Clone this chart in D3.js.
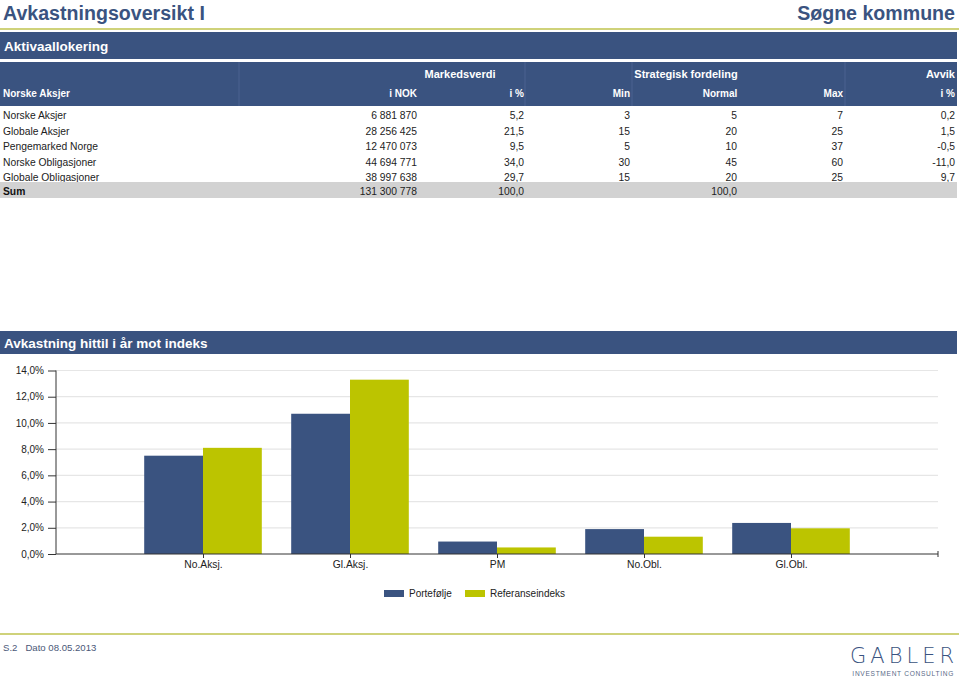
<!DOCTYPE html>
<html><head><meta charset="utf-8">
<script src="https://cdn.jsdelivr.net/npm/d3@7"></script>
<style>
html,body{margin:0;padding:0;background:#fff;}
svg{display:block;font-family:"Liberation Sans",Arial,sans-serif;}
</style></head>
<body>
<svg id="c" width="959" height="678"></svg>
<script>
// ---------- DATA ----------
const assetClasses = ["Norske Aksjer","Globale Aksjer","Pengemarked Norge","Norske Obligasjoner","Globale Obligasjoner"];
const marketValueNOK = [6881870, 28256425, 12470073, 44694771, 38997638];
const marketValuePct = [5.2, 21.5, 9.5, 34.0, 29.7];
const strategyMin = [3, 15, 5, 30, 15];
const strategyNormal = [5, 20, 10, 45, 20];
const strategyMax = [7, 25, 37, 60, 25];
const deviationPct = [0.2, 1.5, -0.5, -11.0, 9.7];
const sumNOK = 131300778;
const sumPct = 100.0;
const sumNormal = 100.0;

const categories = ["No.Aksj.","Gl.Aksj.","PM","No.Obl.","Gl.Obl."];
const portfolio = [7.5, 10.7, 0.95, 1.9, 2.37];
const referenceIndex = [8.1, 13.3, 0.5, 1.32, 1.96];
const yTicks = [0, 2, 4, 6, 8, 10, 12, 14];
const seriesNames = ["Portefølje", "Referanseindeks"];

// ---------- STYLE ----------
const BLUE = "#3a5380";
const GREEN = "#bcc400";
const LINE = "#cfd27a";

const loc = d3.formatLocale({decimal:",", thousands:" ", grouping:[3], currency:["",""], minus:"-"});
const fInt = loc.format(",d");
const f1 = loc.format(".1f");
const fPctAxis = v => loc.format(".1f")(v) + "%";

const svg = d3.select("#c");

// Title
svg.append("text").attr("x",3).attr("y",20).attr("font-size",19.6).attr("font-weight","bold")
  .attr("fill",BLUE).text("Avkastningsoversikt I");
svg.append("text").attr("x",955).attr("y",20).attr("text-anchor","end").attr("font-size",19.6).attr("font-weight","bold")
  .attr("fill",BLUE).text("Søgne kommune");
svg.append("rect").attr("x",0).attr("y",28).attr("width",959).attr("height",2).attr("fill",LINE);

// Section bar
svg.append("rect").attr("x",0).attr("y",32).attr("width",957).attr("height",27).attr("fill",BLUE);
svg.append("text").attr("x",4).attr("y",51).attr("font-size",13.5).attr("font-weight","bold").attr("fill","#fff").text("Aktivaallokering");

// Table header
svg.append("rect").attr("x",0).attr("y",62).attr("width",957).attr("height",44).attr("fill",BLUE);
[239, 525, 632, 845].forEach(x=>{
  svg.append("line").attr("x1",x).attr("x2",x).attr("y1",62).attr("y2",106).attr("stroke","#4a6390").attr("stroke-width",1);
});
const hdr = (x,y,t,anchor,fs)=>svg.append("text").attr("x",x).attr("y",y).attr("text-anchor",anchor).attr("font-size",fs)
  .attr("font-weight","bold").attr("fill","#fff").text(t);
hdr(460,78,"Markedsverdi","middle",11);
hdr(686,78,"Strategisk fordeling","middle",11);
hdr(955,78,"Avvik","end",11);
hdr(3,97,"Norske Aksjer","start",10);
hdr(417,97,"i NOK","end",10);
hdr(524,97,"i %","end",10);
hdr(630,97,"Min","end",10);
hdr(720,97,"Normal","middle",10);
hdr(843,97,"Max","end",10);
hdr(955,97,"i %","end",10);

// Table rows
const rowY = d3.scaleLinear().domain([0,1]).range([119,134.5]);
const cols = [
  {x:3, anchor:"start", v:i=>assetClasses[i]},
  {x:417, anchor:"end", v:i=>fInt(marketValueNOK[i])},
  {x:524, anchor:"end", v:i=>f1(marketValuePct[i])},
  {x:630, anchor:"end", v:i=>String(strategyMin[i])},
  {x:737, anchor:"end", v:i=>String(strategyNormal[i])},
  {x:843, anchor:"end", v:i=>String(strategyMax[i])},
  {x:955, anchor:"end", v:i=>f1(deviationPct[i])}
];
assetClasses.forEach((a,i)=>{
  cols.forEach(c=>{
    svg.append("text").attr("x",c.x).attr("y",rowY(i)).attr("text-anchor",c.anchor)
      .attr("font-size",10.3).attr("fill","#222").text(c.v(i));
  });
});
const sumTop = 182;
svg.append("rect").attr("x",0).attr("y",sumTop).attr("width",957).attr("height",16).attr("fill","#d2d2d2");
const sy = 195;
svg.append("text").attr("x",3).attr("y",sy).attr("font-size",10.3).attr("font-weight","bold").attr("fill","#111").text("Sum");
svg.append("text").attr("x",417).attr("y",sy).attr("text-anchor","end").attr("font-size",10.3).attr("fill","#222").text(fInt(sumNOK));
svg.append("text").attr("x",524).attr("y",sy).attr("text-anchor","end").attr("font-size",10.3).attr("fill","#222").text(f1(sumPct));
svg.append("text").attr("x",737).attr("y",sy).attr("text-anchor","end").attr("font-size",10.3).attr("fill","#222").text(f1(sumNormal));

// Chart section bar
svg.append("rect").attr("x",0).attr("y",331).attr("width",957).attr("height",23).attr("fill",BLUE);
svg.append("text").attr("x",4).attr("y",348).attr("font-size",13.5).attr("font-weight","bold").attr("fill","#fff").text("Avkastning hittil i år mot indeks");

// Chart
const x0 = 56, x1 = 938, yBase = 554, yTop = 370.5;
const y = d3.scaleLinear().domain([0,14]).range([yBase, yTop]);
const xPos = d3.scalePoint().domain(["", ...categories, " "]).range([x0, x1]);
const step = xPos.step();
const bw = step * 0.4;

const g = svg.append("g");
g.selectAll("line.grid").data(yTicks.filter(t=>t>0)).join("line")
  .attr("x1",x0).attr("x2",x1).attr("y1",d=>y(d)).attr("y2",d=>y(d))
  .attr("stroke","#e6e6e6").attr("stroke-width",1.2);

g.selectAll("rect.p").data(portfolio).join("rect")
  .attr("x",(d,i)=>xPos(categories[i]) - bw).attr("width",bw)
  .attr("y",d=>y(d)).attr("height",d=>yBase - y(d)).attr("fill",BLUE);
g.selectAll("rect.r").data(referenceIndex).join("rect")
  .attr("x",(d,i)=>xPos(categories[i])).attr("width",bw)
  .attr("y",d=>y(d)).attr("height",d=>yBase - y(d)).attr("fill",GREEN);

const yAxis = d3.axisLeft(y).tickValues(yTicks).tickFormat(fPctAxis).tickSize(8).tickPadding(4);
const ya = svg.append("g").attr("transform",`translate(${x0},0)`).call(yAxis);
ya.select(".domain").attr("stroke","#333").attr("d",`M0,${yTop}V${yBase}`);
ya.selectAll(".tick line").attr("stroke","#333");
ya.selectAll("text").attr("font-size",10).attr("fill","#222").attr("font-family","Liberation Sans, Arial, sans-serif");

const xAxis = d3.axisBottom(xPos).tickValues(categories).tickSize(4).tickPadding(3);
const xa = svg.append("g").attr("transform",`translate(0,${yBase})`).call(xAxis);
xa.select(".domain").attr("stroke","#333").attr("d",`M${x0},0H${x1}`);
xa.selectAll(".tick line").attr("stroke","#333");
xa.selectAll("text").attr("font-size",10.3).attr("fill","#222").attr("font-family","Liberation Sans, Arial, sans-serif");
svg.append("line").attr("x1",x1).attr("x2",x1).attr("y1",yBase-3).attr("y2",yBase+3).attr("stroke","#333");

// legend
const leg = [{x:384, c:BLUE, t:seriesNames[0]},{x:465, c:GREEN, t:seriesNames[1]}];
leg.forEach(l=>{
  svg.append("rect").attr("x",l.x).attr("y",590).attr("width",20).attr("height",7).attr("fill",l.c);
  svg.append("text").attr("x",l.x+25).attr("y",597).attr("font-size",10).attr("fill","#222").text(l.t);
});

// footer
svg.append("rect").attr("x",0).attr("y",633).attr("width",959).attr("height",2).attr("fill",LINE);
svg.append("text").attr("x",3).attr("y",651).attr("font-size",9.6).attr("fill","#4a5878").attr("xml:space","preserve").text("S.2   Dato 08.05.2013");

// logo
svg.append("text").attr("x",958).attr("y",663).attr("text-anchor","end").attr("font-size",21)
  .attr("letter-spacing",4).attr("fill",BLUE).attr("font-family","DejaVu Sans, sans-serif").attr("font-weight","200")
  .text("GABLER");
svg.append("text").attr("x",954).attr("y",676).attr("text-anchor","end").attr("font-size",6.6)
  .attr("letter-spacing",0.7).attr("fill","#5a6a88").text("INVESTMENT CONSULTING");
</script>
</body></html>
